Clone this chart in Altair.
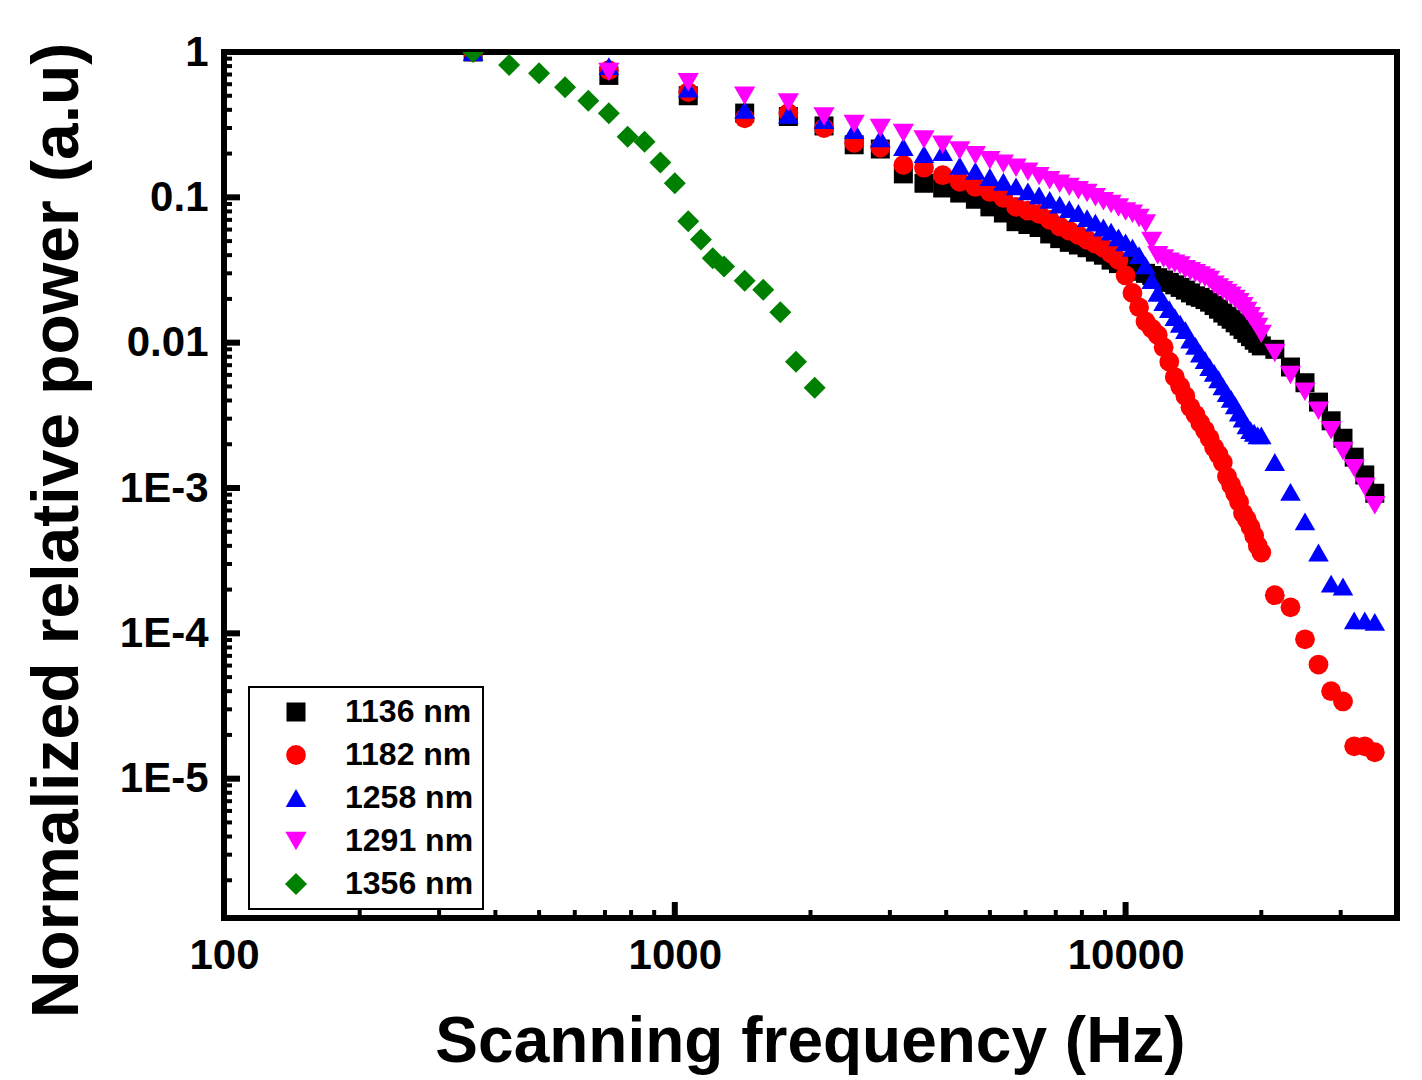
import altair as alt
import pandas as pd

# Scanning frequencies (Hz) shared by the 1136 / 1182 / 1258 / 1291 nm series
freq = [357, 714, 1071, 1429, 1786, 2143, 2500, 2857, 3214, 3571,
        3929, 4286, 4643, 5000, 5357, 5714, 6071, 6429, 6786, 7143,
        7500, 7857, 8214, 8571, 8929, 9286, 9643, 10000, 10357, 10714,
        11071, 11429, 11786, 12143, 12500, 12857, 13214, 13571, 13929, 14286,
        14643, 15000, 15357, 15714, 16071, 16429, 16786, 17143, 17500, 17857,
        18214, 18571, 18929, 19286, 19643, 20000,
        21429, 23214, 25000, 26786, 28571, 30357, 32143, 33929, 35714]

p1136 = [1.0, 0.69, 0.50, 0.38, 0.36, 0.31, 0.23, 0.215, 0.145, 0.125,
         0.116, 0.107, 0.097, 0.086, 0.078, 0.068, 0.065, 0.062, 0.056, 0.052,
         0.049, 0.047, 0.045, 0.042, 0.040, 0.037, 0.035, 0.034, 0.032, 0.031,
         0.030, 0.029, 0.028, 0.027, 0.026, 0.025, 0.024, 0.023, 0.022, 0.021,
         0.0205, 0.0198, 0.019, 0.018, 0.017, 0.016, 0.0152, 0.0145, 0.0137, 0.013,
         0.0123, 0.0116, 0.011, 0.0104, 0.0099, 0.0095,
         0.0090, 0.0068, 0.0053, 0.0039, 0.0029, 0.0022, 0.00163, 0.00123, 0.00092]

p1182 = [1.0, 0.75, 0.53, 0.35, 0.38, 0.30, 0.237, 0.22, 0.167, 0.16,
         0.142, 0.128, 0.118, 0.109, 0.099, 0.086, 0.081, 0.077, 0.070, 0.063,
         0.059, 0.055, 0.051, 0.048, 0.045, 0.041, 0.037, 0.029, 0.022, 0.0175,
         0.014, 0.0125, 0.0113, 0.0093, 0.0074, 0.0058, 0.0050, 0.0043, 0.0036, 0.0032,
         0.0028, 0.0025, 0.0022, 0.0019, 0.0017, 0.0015, 0.0012, 0.00105, 0.00092, 0.00080,
         0.00067, 0.00061, 0.00054, 0.00047, 0.00040, 0.00036,
         1.83e-4, 1.51e-4, 9.1e-5, 6.1e-5, 4.0e-5, 3.4e-5, 1.67e-5, 1.67e-5, 1.52e-5]

p1258 = [1.0, 0.80, 0.56, 0.40, 0.37, 0.34, 0.29, 0.255, 0.222, 0.198,
         0.205, 0.165, 0.152, 0.138, 0.128, 0.119, 0.110, 0.103, 0.096, 0.089,
         0.083, 0.078, 0.072, 0.067, 0.062, 0.058, 0.053, 0.049, 0.045, 0.040,
         0.034, 0.027, 0.022, 0.019, 0.017, 0.015, 0.0135, 0.0122, 0.0105, 0.0095,
         0.0084, 0.0076, 0.0068, 0.0062, 0.0056, 0.0050, 0.0045, 0.0041, 0.0037, 0.0033,
         0.0030, 0.0027, 0.0025, 0.0024, 0.0023, 0.0023,
         1.51e-3, 9.4e-4, 5.9e-4, 3.6e-4, 2.2e-4, 2.1e-4, 1.23e-4, 1.23e-4, 1.2e-4]

p1291 = [1.0, 0.73, 0.62, 0.50, 0.45, 0.36, 0.32, 0.30, 0.277, 0.25,
         0.23, 0.21, 0.195, 0.18, 0.17, 0.16, 0.15, 0.14, 0.131, 0.124,
         0.118, 0.112, 0.107, 0.100, 0.094, 0.090, 0.085, 0.080, 0.077, 0.072,
         0.066, 0.050, 0.040, 0.038, 0.036, 0.035, 0.034, 0.032, 0.031, 0.030,
         0.029, 0.028, 0.027, 0.025, 0.024, 0.023, 0.022, 0.021, 0.020, 0.019,
         0.0178, 0.0165, 0.0152, 0.014, 0.0128, 0.0115,
         8.5e-3, 6.0e-3, 4.6e-3, 3.4e-3, 2.5e-3, 1.8e-3, 1.37e-3, 1.02e-3, 7.6e-4]

# 1356 nm was sampled on its own, finer grid
freq_1356 = [357, 429, 500, 571, 643, 714, 786, 857, 929, 1000,
             1071, 1143, 1214, 1286, 1429, 1571, 1714, 1857, 2043]
p1356 = [1.0, 0.814, 0.713, 0.571, 0.462, 0.379, 0.261, 0.241, 0.174, 0.125,
         0.0685, 0.0513, 0.0381, 0.0334, 0.0267, 0.0231, 0.0162, 0.0074, 0.0049]

series = ["1136 nm", "1182 nm", "1258 nm", "1291 nm", "1356 nm"]
colors = ["#000000", "#ff0000", "#0000ff", "#ff00ff", "#008000"]
shapes = ["square", "circle", "triangle-up", "triangle-down", "diamond"]
sizes = [361, 484, 676, 676, 676]

# axis ticks (drawn inward, as in the original figure)
y_major = [0.1, 0.01, 0.001, 0.0001, 0.00001]
y_minor = [m * 10.0 ** e for e in range(-6, 0) for m in range(2, 10)]
x_major = [1000, 10000]
x_minor = [200, 300, 400, 500, 600, 700, 800, 900,
           2000, 3000, 4000, 5000, 6000, 7000, 8000, 9000, 20000, 30000]

W, H = 1173, 866
FONT = "Liberation Sans"

frames = []
for name, f, v in [(series[0], freq, p1136), (series[1], freq, p1182),
                   (series[2], freq, p1258), (series[3], freq, p1291),
                   (series[4], freq_1356, p1356)]:
    frames.append(pd.DataFrame({"freq": f, "power": v, "series": name}))
df = pd.concat(frames, ignore_index=True)

xs = alt.Scale(type="log", domain=[100, 40000], nice=False)
ys = alt.Scale(type="log", domain=[1.1e-6, 1], nice=False)
XT = "Scanning frequency (Hz)"
YT = "Normalized relative power (a.u)"

x_axis = alt.Axis(values=[100, 1000, 10000], format="d", ticks=False, tickSize=0,
                  domain=False, grid=False, labelFlush=False, labelPadding=17,
                  labelFont=FONT, labelFontSize=42, labelFontWeight="bold",
                  labelColor="black", titleFont=FONT, titleFontSize=64,
                  titleFontWeight="bold", titleColor="black", titleX=586,
                  titleY=143, titleAlign="center", titleBaseline="alphabetic")
y_axis = alt.Axis(values=[1, 0.1, 0.01, 0.001, 0.0001, 0.00001],
                  labelExpr="datum.value >= 0.01 ? toString(datum.value) : '1E-' + round(-log(datum.value) / LN10)",
                  ticks=False, tickSize=0, domain=False, grid=False,
                  labelFlush=False, labelOverlap=False, labelPadding=16,
                  labelFont=FONT, labelFontSize=42, labelFontWeight="bold",
                  labelColor="black", labelBaseline="middle", titleFont=FONT,
                  titleFontSize=66, titleFontWeight="bold", titleColor="black",
                  titleX=-147, titleY=478, titleAngle=270, titleAlign="center",
                  titleBaseline="alphabetic")

legend = alt.Legend(
    title=None, orient="none", legendX=25, legendY=635,
    labelFont=FONT, labelFontSize=32, labelFontWeight="bold", labelColor="black",
    padding=9, rowPadding=11, symbolOffset=22, labelOffset=33,
    strokeColor="black", fillColor="white", cornerRadius=0,
    symbolStrokeWidth=0, symbolOpacity=1,
)

points = alt.Chart(df).mark_point(filled=True, opacity=1, strokeWidth=0, clip=True).encode(
    x=alt.X("freq:Q", scale=xs, title=XT, axis=x_axis),
    y=alt.Y("power:Q", scale=ys, title=YT, axis=y_axis),
    color=alt.Color("series:N", scale=alt.Scale(domain=series, range=colors), legend=legend),
    shape=alt.Shape("series:N", scale=alt.Scale(domain=series, range=shapes), legend=legend),
    size=alt.Size("series:N", scale=alt.Scale(domain=series, range=sizes), legend=legend),
)

y_major_ticks = alt.Chart(pd.DataFrame({"power": y_major})).mark_rule(color="black", strokeWidth=6).encode(
    y=alt.Y("power:Q", scale=ys, title=YT, axis=y_axis), x=alt.value(0), x2=alt.value(16))
y_minor_ticks = alt.Chart(pd.DataFrame({"power": y_minor})).mark_rule(color="black", strokeWidth=4).encode(
    y=alt.Y("power:Q", scale=ys, title=YT, axis=y_axis), x=alt.value(0), x2=alt.value(8))
x_major_ticks = alt.Chart(pd.DataFrame({"freq": x_major})).mark_rule(color="black", strokeWidth=6).encode(
    x=alt.X("freq:Q", scale=xs, title=XT, axis=x_axis), y=alt.value(H), y2=alt.value(H - 16))
x_minor_ticks = alt.Chart(pd.DataFrame({"freq": x_minor})).mark_rule(color="black", strokeWidth=4).encode(
    x=alt.X("freq:Q", scale=xs, title=XT, axis=x_axis), y=alt.value(H), y2=alt.value(H - 8))

chart = alt.layer(points, y_major_ticks, y_minor_ticks, x_major_ticks, x_minor_ticks).properties(
    width=W, height=H,
    autosize=alt.AutoSizeParams(type="none"),
    padding={"left": 216, "top": 44, "right": 12, "bottom": 158},
    background="white",
).configure_view(stroke="black", strokeWidth=6).configure_legend(strokeWidth=2)

chart.save("out.html", embed_options={"renderer": "svg", "actions": False})
